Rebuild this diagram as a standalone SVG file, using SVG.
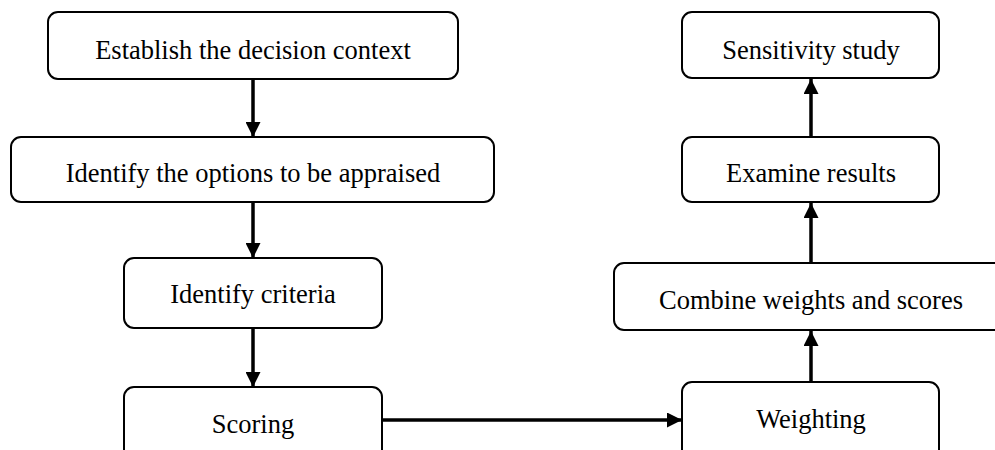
<svg xmlns="http://www.w3.org/2000/svg" width="995" height="450" viewBox="0 0 995 450">
<style>
.box{fill:#fff;stroke:#000;stroke-width:2}
.lbl{font-family:"Liberation Serif",serif;font-size:26.5px;fill:#000;text-anchor:middle}
.con{stroke:#000;stroke-width:3.5;fill:none;marker-end:url(#ah)}
</style>
<defs>
<marker id="ah" viewBox="0 0 10 10" refX="10" refY="5" markerUnits="userSpaceOnUse" markerWidth="15" markerHeight="15" orient="auto">
<path d="M0,0 L10,5 L0,10 Z" fill="#000"/>
</marker>
</defs>
<rect width="995" height="450" fill="#fff"/>
<g id="connectors">
<line class="con" x1="253" y1="79" x2="253" y2="137"/>
<line class="con" x1="253" y1="202" x2="253" y2="258"/>
<line class="con" x1="253" y1="328" x2="253" y2="387"/>
<line class="con" x1="382" y1="420" x2="682" y2="420"/>
<line class="con" x1="811" y1="382" x2="811" y2="331"/>
<line class="con" x1="811" y1="263" x2="811" y2="203"/>
<line class="con" x1="811" y1="137" x2="811" y2="79"/>
</g>
<g id="n1"><rect class="box" x="48" y="12" width="410" height="67" rx="10"/><text class="lbl" x="253" y="59">Establish the decision context</text></g>
<g id="n2"><rect class="box" x="11" y="137" width="483" height="65" rx="10"/><text class="lbl" x="253" y="182">Identify the options to be appraised</text></g>
<g id="n3"><rect class="box" x="124" y="258" width="258" height="70" rx="10"/><text class="lbl" x="253" y="303">Identify criteria</text></g>
<g id="n4"><rect class="box" x="124" y="387" width="258" height="80" rx="10"/><text class="lbl" x="253" y="433">Scoring</text></g>
<g id="n5"><rect class="box" x="682" y="382" width="257" height="85" rx="10"/><text class="lbl" x="811" y="428">Weighting</text></g>
<g id="n6"><rect class="box" x="614" y="263" width="395" height="67" rx="10"/><text class="lbl" x="811" y="309">Combine weights and scores</text></g>
<g id="n7"><rect class="box" x="682" y="137" width="257" height="65" rx="10"/><text class="lbl" x="811" y="182">Examine results</text></g>
<g id="n8"><rect class="box" x="682" y="12" width="257" height="66" rx="10"/><text class="lbl" x="811" y="59">Sensitivity study</text></g>
</svg>
